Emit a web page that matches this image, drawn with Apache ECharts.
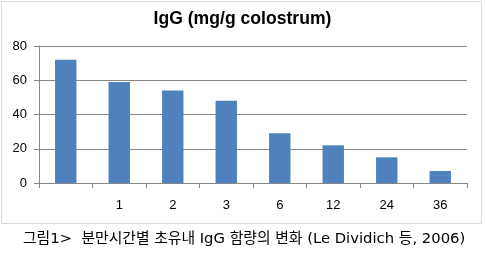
<!DOCTYPE html>
<html><head><meta charset="utf-8">
<script src="https://cdn.jsdelivr.net/npm/echarts@6/dist/echarts.min.js"></script>
<style>html,body{margin:0;padding:0;background:#fff}#c{width:485px;height:258px}</style>
</head><body><div id="c"></div>
<script>
const titleText = 'IgG (mg/g colostrum)';
const captionText = '그림1>  분만시간별 초유내 IgG 함량의 변화 (Le Dividich 등, 2006)';
const categories = ['', '1', '2', '3', '6', '12', '24', '36'];
const iggValues = [72, 59, 54, 48, 29, 22, 15, 7];
const yTicks = [0, 20, 40, 60, 80];

const chart = echarts.init(document.getElementById('c'), null, {renderer: 'canvas'});
chart.setOption({
  animation: false,
  title: {
    text: titleText, left: 'center', top: 5,
    textStyle: {fontFamily: 'Liberation Sans, Arial', fontSize: 17.6, fontWeight: 'bold', color: '#000'}
  },
  grid: {left: 39, right: 18, top: 46, bottom: 75, containLabel: false},
  xAxis: {
    type: 'category', data: categories,
    axisLine: {lineStyle: {color: '#868686', width: 1}},
    axisTick: {show: true, alignWithLabel: false, length: 5, lineStyle: {color: '#868686'}},
    axisLabel: {margin: 16, fontFamily: 'Liberation Sans, Arial', fontSize: 13, color: '#000'}
  },
  yAxis: {
    type: 'value', min: yTicks[0], max: yTicks[yTicks.length - 1], interval: 20,
    axisLine: {show: true, lineStyle: {color: '#868686', width: 1}},
    axisTick: {show: true, length: 5, lineStyle: {color: '#868686'}},
    splitLine: {lineStyle: {color: '#868686', width: 1}},
    axisLabel: {margin: 12, fontFamily: 'Liberation Sans, Arial', fontSize: 13, color: '#000'}
  },
  series: [{
    type: 'bar', data: iggValues, barWidth: '40%',
    itemStyle: {color: '#4F81BD'}
  }],
  graphic: [
    {type: 'rect', shape: {x: 1.5, y: 1.5, width: 480, height: 222},
     style: {fill: 'none', stroke: '#d9d9d9', lineWidth: 1}, z: -1},
    {type: 'text', left: 23, top: 232,
     style: {text: captionText, font: '14.8px "DejaVu Sans", "Noto Sans CJK KR", sans-serif', fill: '#000'}}
  ]
});
</script></body></html>
